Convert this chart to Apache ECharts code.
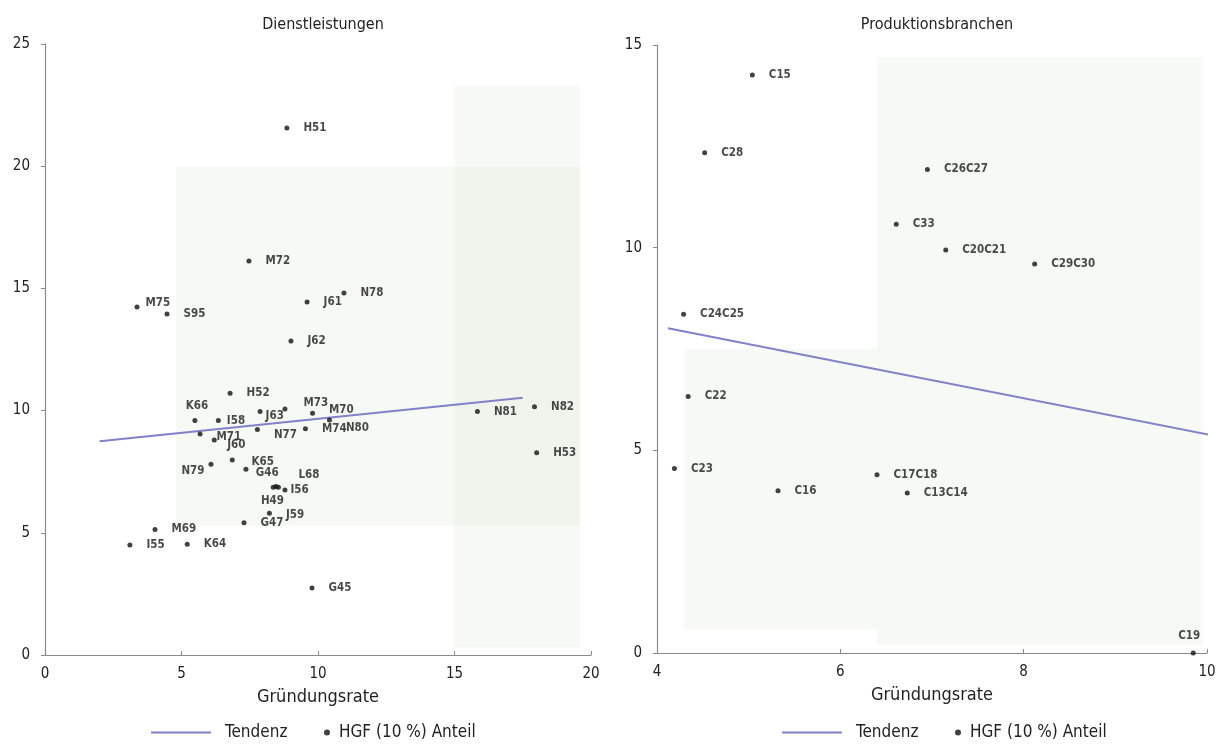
<!DOCTYPE html>
<html>
<head>
<meta charset="utf-8">
<title>Gründungsrate und HGF-Anteil</title>
<script src="https://cdn.jsdelivr.net/npm/echarts@6/dist/echarts.min.js"></script>
<style>
  html, body { margin: 0; padding: 0; background: #fff; }
  #chart { width: 1221px; height: 748px; }
</style>
</head>
<body>
<div id="chart"></div>
<script>
// Dienstleistungen: Branche, Gründungsrate (x), HGF (10 %) Anteil (y)
var dienstCodes = ['H51', 'M72', 'M75', 'S95', 'J61', 'N78', 'J62', 'H52', 'K66', 'I58', 'J63',
  'M73', 'M70', 'N80', 'M74', 'N77', 'M71', '', 'J60', 'N79', 'K65', 'G46', 'L68', 'H49', 'I56',
  'J59', 'G47', 'M69', 'K64', 'I55', 'G45', 'N81', 'N82', 'H53'];
var dienstRate = [8.86, 7.47, 3.37, 4.47, 9.60, 10.95, 9.01, 6.78, 5.49, 6.35, 7.88,
  8.79, 9.80, 10.42, 9.54, 7.78, 5.68, 6.20, 6.86, 6.08, 7.36, 8.36, 8.46, 8.55, 8.79,
  8.22, 7.29, 4.03, 5.21, 3.11, 9.78, 15.84, 17.93, 18.01];
var dienstHgf = [21.56, 16.12, 14.24, 13.95, 14.44, 14.81, 12.85, 10.71, 9.59, 9.59, 9.96,
  10.07, 9.89, 9.62, 9.26, 9.23, 9.04, 8.80, 7.98, 7.80, 7.60, 6.86, 6.89, 6.86, 6.75,
  5.80, 5.41, 5.14, 4.53, 4.50, 2.74, 9.96, 10.16, 8.28];
var dienstTrendRate = [2.0, 17.5];
var dienstTrendHgf = [8.75, 10.53];

// Produktionsbranchen
var prodCodes = ['C15', 'C28', 'C26C27', 'C33', 'C20C21', 'C29C30', 'C24C25', 'C22', 'C23',
  'C16', 'C17C18', 'C13C14', 'C19'];
var prodRate = [5.04, 4.52, 6.95, 6.61, 7.15, 8.12, 4.29, 4.34, 4.19, 5.32, 6.40, 6.73, 9.85];
var prodHgf = [14.26, 12.34, 11.93, 10.58, 9.94, 9.60, 8.36, 6.33, 4.55, 4.0, 4.4, 3.95, 0];
var prodTrendRate = [4.12, 10.1];
var prodTrendHgf = [8.01, 5.35];

var xName = 'Gründungsrate';
var lineName = 'Tendenz';
var dotName = 'HGF (10 %) Anteil';

var FONT = '"DejaVu Sans Condensed", "Liberation Sans Narrow", "DejaVu Sans", sans-serif';
var TREND = '#8182c8';

// Lage einzelner Beschriftungen (wie im Original versetzt)
var labelTweaks = {
  'K66': { position: 'top', distance: 6, offset: [2, 0] },
  'J60': { position: 'top', distance: 6, offset: [4, 0] },
  'N79': { position: 'left', distance: 4, offset: [0, 7] },
  'M71': { offset: [0, 3] },
  'J63': { distance: 3, offset: [0, 4] },
  'I58': { distance: 6 },
  'G46': { position: 'top', distance: 6, offset: [-6, 0] },
  'L68': { offset: [6, -12] },
  'H49': { position: 'bottom', distance: 5, offset: [-6, 0] },
  'I56': { distance: 3 },
  'J59': { offset: [0, 2] },
  'K65': { distance: 3, offset: [0, -7] },
  'M73': { offset: [2, -6] },
  'M70': { offset: [0, -3] },
  'N80': { offset: [0, 8] },
  'N77': { offset: [0, 6] },
  'M75': { distance: 6, offset: [0, -4] },
  'C19': { position: 'top', distance: 8, offset: [-4, 0] }
};

function points(codes, xs, ys) {
  return codes.map(function (c, i) {
    var item = { name: c, value: [xs[i], ys[i]] };
    if (labelTweaks[c]) item.label = labelTweaks[c];
    return item;
  });
}

function pairs(xs, ys) {
  return xs.map(function (x, i) { return [x, ys[i]]; });
}

var axisText = { fontFamily: FONT, fontSize: 15, color: '#222' };

function xAxisOf(idx, min, max, step) {
  return {
    gridIndex: idx, type: 'value', min: min, max: max, interval: step,
    name: xName, nameLocation: 'middle', nameGap: 33,
    nameTextStyle: { fontFamily: FONT, fontSize: 18, color: '#222' },
    axisLine: { lineStyle: { color: '#8a8a8a', width: 1.2 } },
    axisTick: { inside: true, length: 4, lineStyle: { color: '#8a8a8a' } },
    axisLabel: Object.assign({ margin: 12 }, axisText),
    splitLine: { show: false }
  };
}

function yAxisOf(idx, min, max, step) {
  return {
    gridIndex: idx, type: 'value', min: min, max: max, interval: step,
    axisLine: { show: true, lineStyle: { color: '#8a8a8a', width: 1.2 } },
    axisTick: { show: true, length: 4, lineStyle: { color: '#8a8a8a' } },
    axisLabel: Object.assign({ margin: 15 }, axisText),
    splitLine: { show: false }
  };
}

var pointLabel = {
  show: true, formatter: '{b}', position: 'right', distance: 14,
  fontFamily: FONT, fontWeight: 'bold', fontSize: 11.5, color: '#1a1a1a'
};

var shade = { color: 'rgba(222, 228, 212, 0.24)' };
var legendText = { fontFamily: FONT, fontSize: 17, color: '#222' };

var option = {
  backgroundColor: '#fff',
  animation: false,
  title: [
    { text: 'Dienstleistungen', left: 318, top: 12, textAlign: 'center',
      textStyle: { fontFamily: FONT, fontSize: 16, fontWeight: 'normal', color: '#222' } },
    { text: 'Produktionsbranchen', left: 932, top: 12, textAlign: 'center',
      textStyle: { fontFamily: FONT, fontSize: 16, fontWeight: 'normal', color: '#222' } }
  ],
  grid: [
    { left: 45, top: 44, width: 546, height: 611 },
    { left: 657, top: 45, width: 550, height: 608 }
  ],
  xAxis: [xAxisOf(0, 0, 20, 5), xAxisOf(1, 4, 10, 2)],
  yAxis: [yAxisOf(0, 0, 25, 5), yAxisOf(1, 0, 15, 5)],
  legend: [
    { data: [lineName], icon: 'rect', left: 146, top: 719, itemWidth: 60, itemHeight: 2,
      textStyle: Object.assign({ padding: [0, 0, 0, 9] }, legendText) },
    { data: [dotName], left: 319, top: 719, itemWidth: 6, itemHeight: 6,
      textStyle: Object.assign({ padding: [0, 0, 0, 4] }, legendText) },
    { data: [lineName], icon: 'rect', left: 777, top: 719, itemWidth: 60, itemHeight: 2,
      textStyle: Object.assign({ padding: [0, 0, 0, 9] }, legendText) },
    { data: [dotName], left: 950, top: 719, itemWidth: 6, itemHeight: 6,
      textStyle: Object.assign({ padding: [0, 0, 0, 4] }, legendText) }
  ],
  series: [
    {
      name: lineName, type: 'line', xAxisIndex: 0, yAxisIndex: 0,
      data: pairs(dienstTrendRate, dienstTrendHgf),
      symbol: 'none', lineStyle: { color: TREND, width: 2 }, itemStyle: { color: TREND }, z: 1
    },
    {
      name: dotName, type: 'scatter', xAxisIndex: 0, yAxisIndex: 0,
      data: points(dienstCodes, dienstRate, dienstHgf),
      symbolSize: 5, itemStyle: { color: '#111' }, label: pointLabel, z: 3,
      markArea: {
        silent: true, itemStyle: shade,
        data: [
          [{ coord: [4.8, 5.3] }, { coord: [19.6, 20] }],
          [{ coord: [15, 0.3] }, { coord: [19.6, 23.3] }]
        ]
      }
    },
    {
      name: lineName, type: 'line', xAxisIndex: 1, yAxisIndex: 1,
      data: pairs(prodTrendRate, prodTrendHgf), clip: false,
      symbol: 'none', lineStyle: { color: TREND, width: 2 }, itemStyle: { color: TREND }, z: 1
    },
    {
      name: dotName, type: 'scatter', xAxisIndex: 1, yAxisIndex: 1,
      data: points(prodCodes, prodRate, prodHgf),
      symbolSize: 5, itemStyle: { color: '#111' }, label: pointLabel, z: 3, clip: false,
      markArea: {
        silent: true, itemStyle: shade,
        data: [
          [{ coord: [6.4, 0.2] }, { coord: [9.95, 14.7] }],
          [{ coord: [4.3, 0.6] }, { coord: [6.4, 7.5] }]
        ]
      }
    }
  ]
};

var myChart = echarts.init(document.getElementById('chart'));
myChart.setOption(option);
</script>
</body>
</html>
